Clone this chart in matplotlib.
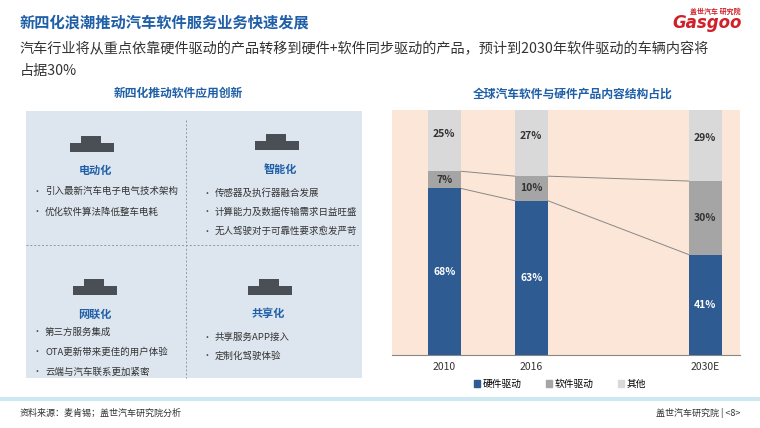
import matplotlib
matplotlib.use("Agg")
import matplotlib.pyplot as plt
from matplotlib.patches import Rectangle

plt.rcParams["font.family"] = "Noto Sans CJK SC"

years = ["2010", "2016", "2030E"]
positions = [0, 1, 3]
hardware = [68, 63, 41]
software = [7, 10, 30]
other = [25, 27, 29]
series_names = ["硬件驱动", "软件驱动", "其他"]

W, H = 760, 428
fig = plt.figure(figsize=(7.6, 4.28), dpi=100)
fig.patch.set_facecolor("white")

def fx(x): return x / W
def fy(y): return 1 - y / H

BLUE = "#1f5fa8"
# title
fig.text(fx(20), fy(22), "新四化浪潮推动汽车软件服务业务快速发展", fontsize=11, color=BLUE,
         fontweight="bold", va="center")
fig.text(fx(20), fy(49), "汽车行业将从重点依靠硬件驱动的产品转移到硬件+软件同步驱动的产品，预计到2030年软件驱动的车辆内容将",
         fontsize=10.2, color="#333333", va="center")
fig.text(fx(20), fy(71), "占据30%", fontsize=10.2, color="#333333", va="center")
fig.text(fx(690), fy(11), "盖世汽车 研究院", fontsize=5, color="#d0202a", ha="left", va="center", fontweight="bold")
fig.text(fx(742), fy(23), "Gasgoo", fontsize=12, color="#d0202a", ha="right", va="center",
         fontstyle="italic", fontweight="bold", family="DejaVu Sans")

# left panel
fig.text(fx(178), fy(93), "新四化推动软件应用创新", fontsize=8.5, color=BLUE, fontweight="bold",
         ha="center", va="center")
fig.patches.append(Rectangle((fx(26), fy(378)), fx(336), (378 - 111) / H, transform=fig.transFigure,
                             facecolor="#dde6ef", edgecolor="none", zorder=0))
fig.lines.append(plt.Line2D([fx(186), fx(186)], [fy(120), fy(378)], transform=fig.transFigure,
                            color="#8a9aaa", lw=0.7, ls=(0, (2, 2))))
fig.lines.append(plt.Line2D([fx(26), fx(358)], [fy(245), fy(245)], transform=fig.transFigure,
                            color="#8a9aaa", lw=0.7, ls=(0, (2, 2))))
heads = [("电动化", 95, 170), ("智能化", 280, 170), ("网联化", 95, 314), ("共享化", 268, 314)]
for t, x, y in heads:
    fig.text(fx(x), fy(y), t, fontsize=8, color=BLUE, fontweight="bold", ha="center", va="center")
# simple car silhouettes
for cx, cy in [(92, 147), (277, 145), (95, 290), (270, 290)]:
    fig.patches.append(Rectangle((fx(cx - 22), fy(cy + 5)), fx(44), 9 / H, transform=fig.transFigure,
                                 facecolor="#4a4f55", edgecolor="none"))
    fig.patches.append(Rectangle((fx(cx - 11), fy(cy - 3)), fx(20), 8 / H, transform=fig.transFigure,
                                 facecolor="#4a4f55", edgecolor="none"))
bullets = [
    (45, 191, "引入最新汽车电子电气技术架构"), (45, 212, "优化软件算法降低整车电耗"),
    (215, 193, "传感器及执行器融合发展"), (215, 212, "计算能力及数据传输需求日益旺盛"),
    (215, 231, "无人驾驶对于可靠性要求愈发严苛"),
    (45, 332, "第三方服务集成"), (45, 352, "OTA更新带来更佳的用户体验"), (45, 372, "云端与汽车联系更加紧密"),
    (215, 337, "共享服务APP接入"), (215, 356, "定制化驾驶体验"),
]
for x, y, t in bullets:
    fig.text(fx(x - 13), fy(y), "•", fontsize=6.5, color="#444444", va="center")
    fig.text(fx(x), fy(y), t, fontsize=6.8, color="#333333", va="center")

# right chart
fig.text(fx(573), fy(94), "全球汽车软件与硬件产品内容结构占比", fontsize=8.5, color=BLUE,
         fontweight="bold", ha="center", va="center")
ax = fig.add_axes([fx(392), fy(355), fx(348), (355 - 110) / H])
ax.set_facecolor("#fbe6d7")
bw = 0.38
c_hw, c_sw, c_ot = "#2e5b92", "#a5a5a5", "#d9d9d9"
ax.bar(positions, hardware, bw, color=c_hw, zorder=3)
ax.bar(positions, software, bw, bottom=hardware, color=c_sw, zorder=3)
sw_top = [h + s for h, s in zip(hardware, software)]
ax.bar(positions, other, bw, bottom=sw_top, color=c_ot, zorder=3)
for i in range(len(positions) - 1):
    for vals in (hardware, sw_top):
        ax.plot([positions[i] + bw / 2, positions[i + 1] - bw / 2], [vals[i], vals[i + 1]],
                color="#888888", lw=0.7, zorder=2)
for p, h, s, o, st in zip(positions, hardware, software, other, sw_top):
    ax.text(p, h / 2, f"{h}%", ha="center", va="center", color="white", fontsize=7.5, fontweight="bold", zorder=4)
    ax.text(p, h + s / 2, f"{s}%", ha="center", va="center", color="#333333", fontsize=7.5, fontweight="bold", zorder=4)
    ax.text(p, st + o * 0.6, f"{o}%", ha="center", va="center", color="#333333", fontsize=7.5, fontweight="bold", zorder=4)
ax.set_xlim(-0.6, 3.4)
ax.set_ylim(0, 100)
ax.set_xticks(positions)
ax.set_xticklabels(years, fontsize=7.5, color="#333333")
ax.set_yticks([])
ax.tick_params(axis="x", length=0, pad=5)
for s in ["top", "left", "right"]:
    ax.spines[s].set_visible(False)
ax.spines["bottom"].set_color("#888888")
handles = [Rectangle((0, 0), 1, 1, color=c) for c in (c_hw, c_sw, c_ot)]
fig.legend(handles, series_names, loc="center", bbox_to_anchor=(fx(560), fy(384)), ncol=3,
           frameon=False, fontsize=7, handlelength=0.6, handleheight=0.6, handletextpad=0.3,
           columnspacing=2.5)

# footer
fig.lines.append(plt.Line2D([0, 1], [fy(399), fy(399)], transform=fig.transFigure, color="#cde8ee", lw=3))
fig.text(fx(20), fy(413), "资料来源：麦肯锡；盖世汽车研究院分析", fontsize=6.5, color="#333333", va="center")
fig.text(fx(740), fy(413), "盖世汽车研究院 | <8>", fontsize=6.5, color="#333333", va="center", ha="right")

fig.savefig("out.png", dpi=100)
